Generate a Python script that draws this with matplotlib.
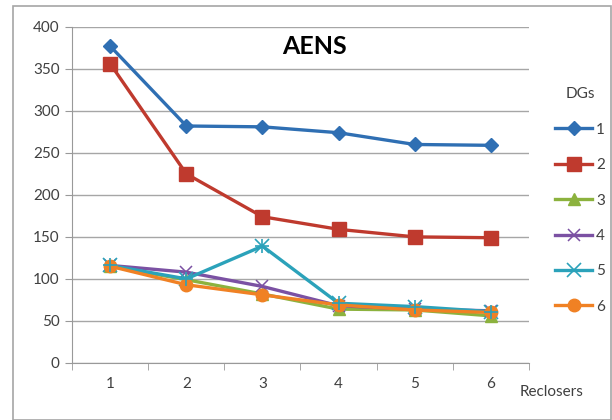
import matplotlib
matplotlib.use('Agg')
import matplotlib.pyplot as plt
from matplotlib.patches import Rectangle

plt.rcParams['font.family'] = ['Lato', 'DejaVu Sans']

reclosers = [1, 2, 3, 4, 5, 6]
dg1 = [377, 282, 281, 274, 260, 259]
dg2 = [356, 225, 174, 159, 150, 149]
dg3 = [115, 99, 82, 64, 63, 56]
dg4 = [116, 108, 91, 68, 64, 62]
dg5 = [116, 100, 139, 71, 67, 61]
dg6 = [115, 93, 81, 69, 63, 60]
series_names = ['1', '2', '3', '4', '5', '6']
y_ticks = [0, 50, 100, 150, 200, 250, 300, 350, 400]

styles = [
    dict(color='#2f6fb3', marker='D', ms=7),
    dict(color='#bf3a2e', marker='s', ms=10),
    dict(color='#8cb23e', marker='^', ms=8),
    dict(color='#7b51a3', marker='x', ms=8, mew=1.1),
    dict(color='#2ba2ba', marker='x', ms=10, mew=1.2),
    dict(color='#f08124', marker='o', ms=9),
]

fig = plt.figure(figsize=(6.12, 4.2), dpi=100)
ax = fig.add_axes([0.118, 0.136, 0.746, 0.800])

lines = []
for vals, st, name in zip([dg1, dg2, dg3, dg4, dg5, dg6], styles, series_names):
    ln, = ax.plot(reclosers, vals, lw=2.4, label=name, **st)
    lines.append(ln)
# the 5-series also gets the star-like spokes
ax.plot(reclosers, dg5, ls='none', marker='+', ms=10, mew=1.2, color='#2ba2ba')

ax.set_xlim(0.5, 6.5)
ax.set_ylim(0, 400)
ax.set_yticks(y_ticks)
ax.set_xticks(reclosers)
ax.set_xticks([0.5, 1.5, 2.5, 3.5, 4.5, 5.5, 6.5], minor=True)
ax.tick_params(axis='x', which='major', length=0, pad=10, labelsize=11, colors='#404040')
ax.tick_params(axis='x', which='minor', length=5, color='#999999')
ax.tick_params(axis='y', length=5, color='#999999', labelsize=11, labelcolor='#404040', pad=4)
ax.grid(axis='y', color='#a6a6a6', lw=1)
ax.set_axisbelow(True)
for s in ['top', 'right']:
    ax.spines[s].set_visible(False)
for s in ['left', 'bottom']:
    ax.spines[s].set_color('#999999')

ax.text(0.53, 0.975, 'AENS', transform=ax.transAxes, ha='center', va='top',
        fontsize=18, fontweight='bold', color='black')

leg = fig.legend(handles=lines, title='DGs', loc='upper left',
                 bbox_to_anchor=(0.895, 0.81), frameon=False, fontsize=11,
                 title_fontsize=11, handlelength=2.4, labelspacing=1.4,
                 handletextpad=0.25, borderpad=0)
leg.get_title().set_color('#404040')
for t in leg.get_texts():
    t.set_color('#404040')

fig.text(0.902, 0.067, 'Reclosers', fontsize=11, color='#404040', ha='center', va='center')

fig.patches.append(Rectangle((0.022, 0.0), 0.976, 0.985, transform=fig.transFigure,
                             fill=False, ec='#a6a6a6', lw=1.2))

fig.savefig('out.png', dpi=100)
